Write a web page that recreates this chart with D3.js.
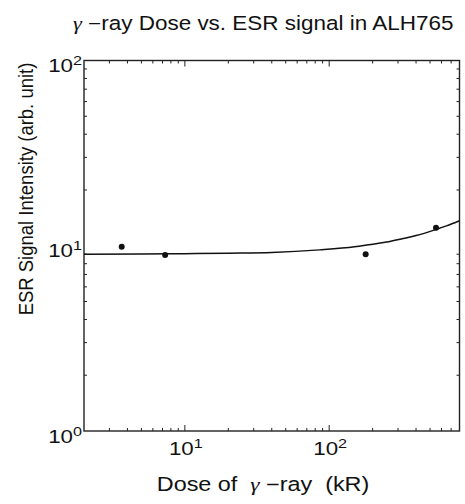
<!DOCTYPE html>
<html>
<head>
<meta charset="utf-8">
<script src="https://cdn.jsdelivr.net/npm/d3@7"></script>
<style>
  body { margin: 0; background: #fff; }
  svg { display: block; font-family: "Liberation Sans", Arial, sans-serif; }
</style>
</head>
<body>
<div id="chart"></div>
<script>
// measured points
const doseKR = [3.65, 7.3, 179, 550];
const esrSignal = [9.88, 8.92, 8.99, 12.52];

// fitted line
const fitDose = [2, 5, 10, 20, 40, 86, 150, 182, 250, 326, 400, 556, 650, 800];
const fitSignal = [9.01, 9.03, 9.06, 9.12, 9.2, 9.5, 9.87, 10.08, 10.47, 10.95, 11.35, 12.28, 12.8, 13.65];

const xTickExps = [1, 2];
const yTickExps = [0, 1, 2];

const width = 465, height = 504;
const margin = { top: 60.5, right: 5.5, bottom: 73, left: 84 };

// the original scan is a bit wider than tall, so text gets stretched
const stretch = 1.2;

const svg = d3.select('#chart').append('svg')
  .attr('width', width)
  .attr('height', height);

const x = d3.scaleLog().domain([2, 800]).range([margin.left, width - margin.right]);
const y = d3.scaleLog().domain([1, 100]).range([height - margin.bottom, margin.top]);

const x0 = margin.left, x1 = width - margin.right;
const y0 = height - margin.bottom, y1 = margin.top;

// minor / major tick values
const xMinor = [];
for (let e = 0; e <= 2; e++) for (let k = 1; k <= 9; k++) {
  const v = k * Math.pow(10, e);
  if (v > 2 && v < 800) xMinor.push(v);
}
const yMinor = [];
for (let e = 0; e <= 1; e++) for (let k = 2; k <= 9; k++) yMinor.push(k * Math.pow(10, e));

const ink = '#111';
const ticks = svg.append('g').attr('stroke', '#222').attr('stroke-width', 1);

// bottom + top
xMinor.forEach(v => {
  const len = (v === 10 || v === 100) ? 6 : 3;
  ticks.append('line').attr('x1', x(v)).attr('x2', x(v)).attr('y1', y0).attr('y2', y0 - len);
  ticks.append('line').attr('x1', x(v)).attr('x2', x(v)).attr('y1', y1).attr('y2', y1 + len);
});
// left + right
yMinor.forEach(v => {
  const len = v === 10 ? 6 : 3;
  ticks.append('line').attr('y1', y(v)).attr('y2', y(v)).attr('x1', x0).attr('x2', x0 + len);
  ticks.append('line').attr('y1', y(v)).attr('y2', y(v)).attr('x1', x1).attr('x2', x1 - len);
});

// frame
svg.append('rect')
  .attr('x', x0).attr('y', y1)
  .attr('width', x1 - x0).attr('height', y0 - y1)
  .attr('fill', 'none')
  .attr('stroke', '#222')
  .attr('stroke-width', 1.4);

// fit line
const line = d3.line()
  .x((d, i) => x(fitDose[i]))
  .y((d, i) => y(fitSignal[i]))
  .curve(d3.curveMonotoneX);

svg.append('path')
  .datum(fitDose)
  .attr('d', line)
  .attr('fill', 'none')
  .attr('stroke', ink)
  .attr('stroke-width', 1.5);

// data points
svg.append('g').selectAll('circle')
  .data(doseKR)
  .join('circle')
  .attr('cx', d => x(d))
  .attr('cy', (d, i) => y(esrSignal[i]))
  .attr('r', 3)
  .attr('fill', ink);

// text drawn at (tx, ty) and stretched horizontally
function stretchedText(tx, ty, size, anchor, sx = stretch, rotate = false) {
  const tf = rotate
    ? `translate(${tx},${ty}) scale(${sx},1) rotate(-90)`
    : `translate(${tx},${ty}) scale(${sx},1)`;
  return svg.append('text')
    .attr('transform', tf)
    .attr('text-anchor', anchor)
    .attr('font-size', size)
    .attr('fill', ink)
    .attr('xml:space', 'preserve');
}

function powerLabel(t, e) {
  t.append('tspan').text('10');
  t.append('tspan').attr('dy', -7).attr('font-size', 13.5).text(e);
}

// greek gamma set slanted like the original
function gamma(t) {
  t.append('tspan').attr('font-family', '"Liberation Serif", serif').attr('font-style', 'italic').text('γ');
}

// tick labels
xTickExps.forEach(e => {
  const t = stretchedText(x(Math.pow(10, e)) + 1, y0 + 24, 18.6, 'middle');
  powerLabel(t, e);
});

yTickExps.forEach(e => {
  const t = stretchedText(x0 - 2, y(Math.pow(10, e)) + 11.5, 18.6, 'end');
  powerLabel(t, e);
});

// axis titles
const xt = stretchedText(263, 491, 19.5, 'middle');
xt.append('tspan').text('Dose of  ');
gamma(xt);
xt.append('tspan').text(' −ray  (kR)');

stretchedText(33, 189, 18.5, 'middle', 1.13, true).text('ESR Signal Intensity (arb. unit)');

// title
const tt = stretchedText(73, 30, 19.3, 'start', 1.165);
gamma(tt);
tt.append('tspan').text(' −ray Dose vs. ESR signal in ALH765');
</script>
</body>
</html>
